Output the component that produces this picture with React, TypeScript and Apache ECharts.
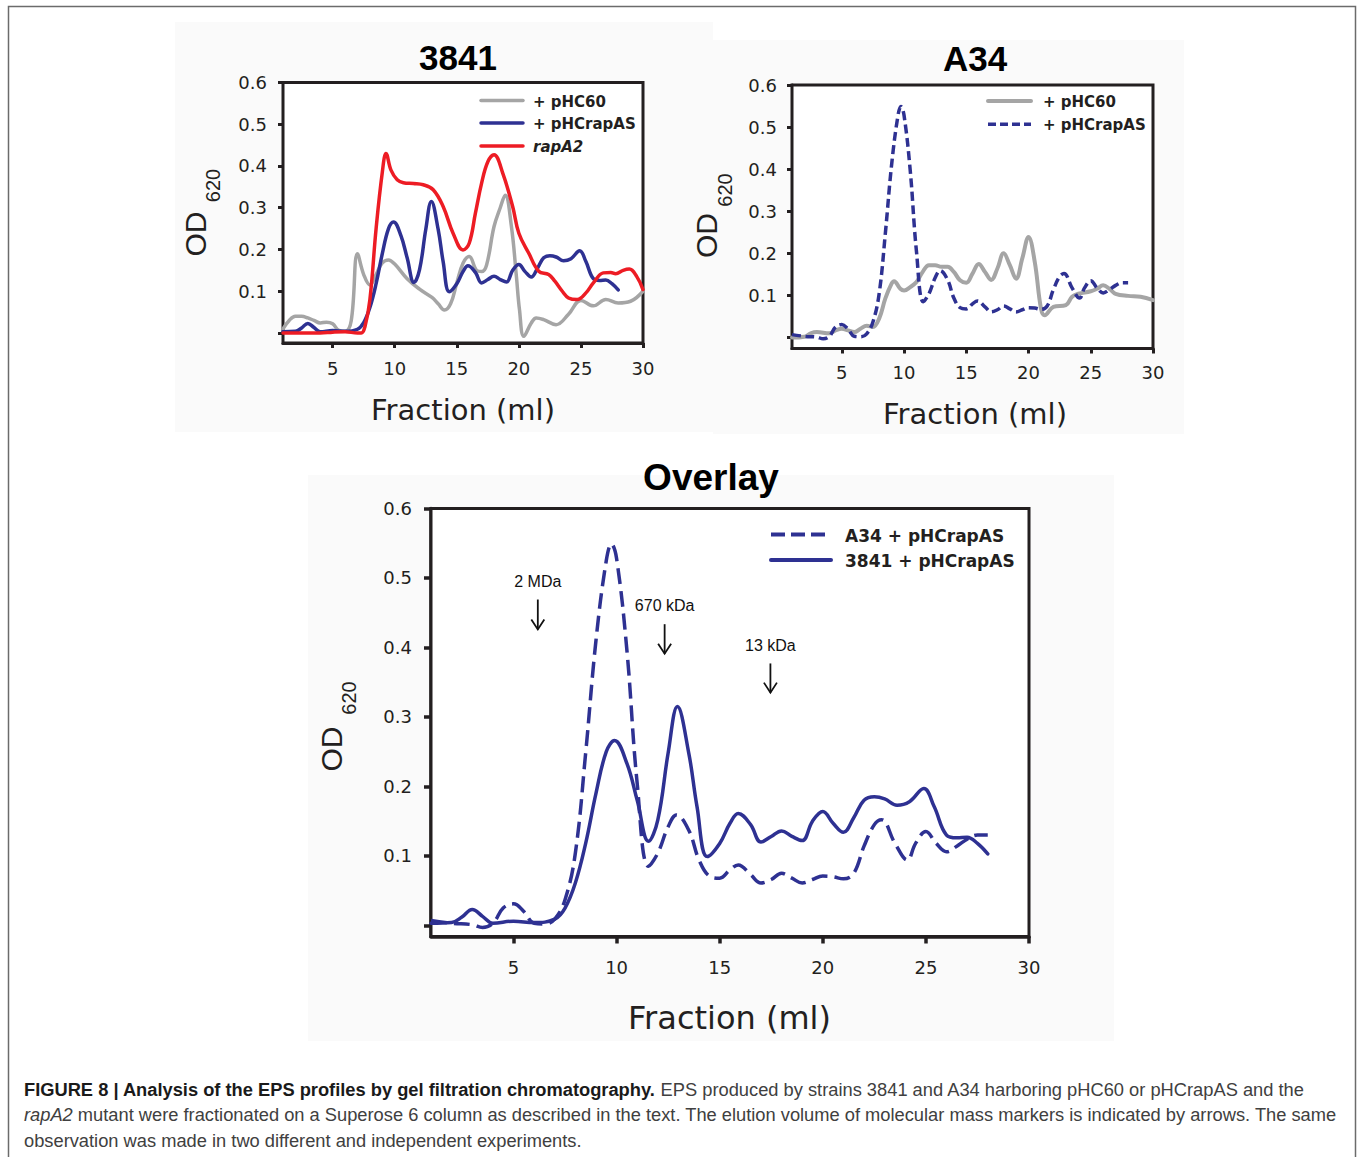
import React, { useEffect, useRef } from "react";
import * as echarts from "echarts";

// ---------- Data ----------
const FRACTION_TICKS = [5, 10, 15, 20, 25, 30];
const OD_TICKS = [0, 0.1, 0.2, 0.3, 0.4, 0.5, 0.6];
const OD_LABELS = [0.1, 0.2, 0.3, 0.4, 0.5, 0.6];

// Strain 3841 + pHC60
const s3841_pHC60_x = [1, 1.5, 2, 2.5, 3, 3.5, 4, 4.5, 5, 5.5, 6, 6.5, 7, 7.5, 8, 8.5, 9, 9.5, 10, 11, 12, 13, 13.5, 14, 14.5, 15, 15.5, 16, 16.6, 17, 17.4, 18, 18.5, 18.9, 19.4, 19.8, 20.05, 20.4, 21, 21.4, 22, 23, 24, 25, 26, 27, 28, 29, 30];
const s3841_pHC60_y = [0.01, 0.03, 0.04, 0.04, 0.036, 0.03, 0.024, 0.026, 0.022, 0.006, 0.004, 0.03, 0.19, 0.14, 0.115, 0.14, 0.168, 0.175, 0.165, 0.13, 0.105, 0.085, 0.07, 0.055, 0.07, 0.12, 0.167, 0.183, 0.15, 0.147, 0.163, 0.255, 0.3, 0.33, 0.255, 0.136, 0.056, -0.008, 0.024, 0.036, 0.032, 0.02, 0.045, 0.078, 0.065, 0.08, 0.072, 0.076, 0.1];

// Strain 3841 + pHCrapAS
const s3841_pHCrapAS_x = [1, 2, 2.5, 3, 3.5, 4, 5, 6, 7, 7.5, 8, 8.5, 9, 9.5, 9.9, 10.5, 11, 11.55, 12, 12.5, 12.95, 13.5, 13.9, 14.4, 15, 15.5, 15.9, 16.5, 17, 17.5, 18, 18.5, 19, 19.5, 20, 20.5, 21, 21.5, 22, 22.5, 23, 23.6, 24.2, 24.9, 25.4, 26, 26.5, 27, 27.5, 28];
const s3841_pHCrapAS_y = [0.003, 0.004, 0.012, 0.023, 0.013, 0.003, 0.006, 0.004, 0.009, 0.025, 0.061, 0.118, 0.19, 0.25, 0.266, 0.233, 0.18, 0.121, 0.152, 0.248, 0.315, 0.248, 0.171, 0.099, 0.118, 0.147, 0.161, 0.145, 0.12, 0.128, 0.136, 0.128, 0.122, 0.15, 0.164, 0.147, 0.134, 0.155, 0.18, 0.185, 0.182, 0.173, 0.178, 0.197, 0.171, 0.13, 0.126, 0.127, 0.118, 0.103];

// rapA2 mutant
const rapA2_x = [1, 2, 3, 4, 5, 6, 7, 7.3, 7.6, 8, 8.5, 9, 9.3, 9.7, 10.2, 10.7, 11.5, 12.3, 13.1, 13.9, 14.7, 15.5, 16, 16.5, 17, 17.5, 18, 18.7, 19.5, 20, 20.8, 21.6, 22.4, 22.9, 23.5, 24, 24.7, 25.4, 26, 26.8, 27.4, 27.8, 28.4, 28.9, 29.5, 30];
const rapA2_y = [0, 0, 0, 0, 0.002, 0.003, 0, 0, 0.015, 0.08, 0.25, 0.385, 0.43, 0.39, 0.367, 0.36, 0.358, 0.355, 0.343, 0.303, 0.239, 0.199, 0.215, 0.287, 0.359, 0.41, 0.427, 0.383, 0.303, 0.239, 0.191, 0.148, 0.14, 0.124, 0.1, 0.084, 0.08, 0.096, 0.12, 0.144, 0.145, 0.142, 0.15, 0.153, 0.135, 0.104];

// Strain A34 + pHC60
const sA34_pHC60_x = [1, 2, 2.5, 3, 4, 4.5, 5, 5.5, 6, 6.5, 7, 7.5, 8, 8.5, 9, 9.2, 9.7, 10, 10.5, 11, 11.5, 12, 12.5, 13, 13.5, 14, 14.5, 15, 15.5, 16, 16.5, 17, 17.5, 18, 18.5, 19, 19.5, 20, 20.5, 21, 21.3, 22, 23, 23.5, 24, 25, 25.5, 26, 26.5, 27, 28, 29, 30];
const sA34_pHC60_y = [0, 0.002, 0.01, 0.013, 0.01, 0.017, 0.021, 0.017, 0.013, 0.021, 0.028, 0.025, 0.045, 0.093, 0.128, 0.134, 0.116, 0.112, 0.12, 0.132, 0.156, 0.172, 0.172, 0.168, 0.168, 0.156, 0.136, 0.13, 0.152, 0.175, 0.156, 0.137, 0.164, 0.2, 0.172, 0.14, 0.188, 0.239, 0.18, 0.069, 0.053, 0.073, 0.077, 0.097, 0.104, 0.11, 0.116, 0.124, 0.116, 0.104, 0.099, 0.097, 0.089];

// Strain A34 + pHCrapAS
const sA34_pHCrapAS_x = [1, 2, 3, 3.5, 4, 4.5, 5, 5.5, 6, 6.5, 7, 7.5, 8, 8.5, 9, 9.5, 9.75, 10, 10.5, 11, 11.55, 12, 12.5, 12.9, 13.5, 14, 14.5, 15, 15.5, 15.9, 16.5, 17, 17.5, 18, 18.5, 19, 19.5, 20, 20.5, 21, 21.5, 22, 22.5, 22.85, 23.5, 24.1, 24.5, 25, 25.5, 26, 26.5, 27, 27.5, 28];
const sA34_pHCrapAS_y = [0.007, 0.003, 0.001, -0.003, 0.003, 0.025, 0.031, 0.02, 0.003, 0.002, 0.009, 0.037, 0.104, 0.248, 0.41, 0.525, 0.549, 0.528, 0.396, 0.204, 0.085, 0.104, 0.142, 0.159, 0.137, 0.094, 0.071, 0.068, 0.08, 0.087, 0.073, 0.061, 0.066, 0.075, 0.068, 0.061, 0.066, 0.071, 0.07, 0.067, 0.075, 0.114, 0.145, 0.152, 0.118, 0.094, 0.118, 0.135, 0.118, 0.106, 0.114, 0.124, 0.13, 0.13];

// Molecular mass markers (overlay)
const markerNames = ["2 MDa", "670 kDa", "13 kDa"];
const markerFractions = [6.18, 12.33, 17.46];
const markerLabelOD = [0.495, 0.461, 0.403];
const markerArrowTopOD = [0.469, 0.4335, 0.377];
const markerArrowTipOD = [0.426, 0.391, 0.335];

// ---------- Styles ----------
const AX = "#231f20";
const GRAY = "#a5a5a5";
const BLUE = "#2e3192";
const RED = "#ed1c24";
const TICK_FONT = "DejaVu Sans";
const TITLE_FONT = "Liberation Sans";

const zip = (xs: number[], ys: number[]) => xs.map((x, i) => [x, ys[i]]);

function grid(left: number, top: number, width: number, height: number) {
  return { left, top, width, height, show: true, borderColor: AX, borderWidth: 3, backgroundColor: "#ffffff", z: 1 };
}

function xAxis(gridIndex: number, margin: number, tickLen: number, w: number) {
  return {
    type: "value", gridIndex, min: 1, max: 30,
    axisLine: { show: true, onZero: false, lineStyle: { color: AX, width: w } },
    axisTick: { show: true, length: tickLen, customValues: FRACTION_TICKS, lineStyle: { color: AX, width: w } },
    axisLabel: { show: true, customValues: FRACTION_TICKS, margin, color: AX, fontFamily: TICK_FONT, fontSize: 18, formatter: (v: number) => String(v) },
    splitLine: { show: false },
  };
}

function yAxis(gridIndex: number, min: number, margin: number, tickLen: number, w: number) {
  return {
    type: "value", gridIndex, min, max: 0.6,
    axisLine: { show: true, onZero: false, lineStyle: { color: AX, width: w } },
    axisTick: { show: true, length: tickLen, customValues: OD_TICKS, lineStyle: { color: AX, width: w } },
    axisLabel: { show: true, customValues: OD_LABELS, margin, color: AX, fontFamily: TICK_FONT, fontSize: 18, formatter: (v: number) => v.toFixed(1) },
    splitLine: { show: false },
  };
}

function line(name: string, idx: number, xs: number[], ys: number[], color: string, width: number, dash?: number[]) {
  return {
    type: "line", name, xAxisIndex: idx, yAxisIndex: idx, data: zip(xs, ys),
    smooth: 0.4, showSymbol: false, symbol: "none", silent: true, z: 3,
    lineStyle: { color, width, type: dash ? dash : "solid", cap: dash ? "butt" : "round", join: "round" },
  };
}

function txt(text: string, x: number, y: number, size: number, opts: any = {}) {
  return {
    type: "text", x, y, rotation: opts.rotation || 0, z: 10,
    style: {
      text, fill: opts.fill || AX, fontSize: size, fontFamily: opts.family || TICK_FONT,
      fontWeight: opts.weight || "normal", fontStyle: opts.italic ? "italic" : "normal",
      align: opts.align || "center", verticalAlign: "middle",
    },
  };
}

function legLine(x1: number, x2: number, y: number, color: string, width: number, dash?: number[]) {
  return {
    type: "line", z: 10,
    shape: { x1, y1: y, x2, y2: y },
    style: { stroke: color, lineWidth: width, lineDash: dash || null, lineCap: dash ? "butt" : "round" },
  };
}

function odName(xOD: number, yOD: number, xSub: number, ySub: number) {
  return [
    txt("OD", xOD, yOD, 30, { rotation: Math.PI / 2, family: TITLE_FONT }),
    txt("620", xSub, ySub, 20, { rotation: Math.PI / 2, family: TITLE_FONT }),
  ];
}

const CAPTION_FONT = "Liberation Sans";
const CAP_SIZE = 18.3;
const capRich = {
  b: { fontFamily: CAPTION_FONT, fontSize: CAP_SIZE, fontWeight: "bold", fill: "#1a1a1a" },
  r: { fontFamily: CAPTION_FONT, fontSize: CAP_SIZE, fontWeight: "normal", fill: "#404040" },
  i: { fontFamily: CAPTION_FONT, fontSize: CAP_SIZE, fontWeight: "normal", fontStyle: "italic", fill: "#404040" },
};
function capLine(text: string, y: number) {
  return { type: "text", x: 24, y, z: 10, style: { text, rich: capRich, align: "left", verticalAlign: "middle" } };
}

const option: any = {
  animation: false,
  backgroundColor: "#ffffff",
  grid: [grid(283, 82.5, 360, 260.5), grid(792, 85, 361, 263.5), grid(431, 508.5, 598, 428)],
  xAxis: [xAxis(0, 16, 5, 3), xAxis(1, 15, 5, 3), xAxis(2, 22, 7, 3.5)],
  yAxis: [yAxis(0, -0.024, 16, 5, 3), yAxis(1, -0.026, 15, 5, 3), yAxis(2, -0.016, 19, 7, 3.5)],
  series: [
    line("+ pHC60", 0, s3841_pHC60_x, s3841_pHC60_y, GRAY, 3.5),
    line("+ pHCrapAS", 0, s3841_pHCrapAS_x, s3841_pHCrapAS_y, BLUE, 3.5),
    line("rapA2", 0, rapA2_x, rapA2_y, RED, 3.5),
    line("+ pHC60 (A34)", 1, sA34_pHC60_x, sA34_pHC60_y, GRAY, 4),
    line("+ pHCrapAS (A34)", 1, sA34_pHCrapAS_x, sA34_pHCrapAS_y, BLUE, 3.5, [9, 4.5]),
    line("A34 + pHCrapAS", 2, sA34_pHCrapAS_x, sA34_pHCrapAS_y, BLUE, 3.5, [16, 7]),
    line("3841 + pHCrapAS", 2, s3841_pHCrapAS_x, s3841_pHCrapAS_y, BLUE, 3.5),
    {
      type: "custom", name: "markers", xAxisIndex: 2, yAxisIndex: 2, silent: true, clip: false, z: 5,
      data: markerNames.map((_, i) => [markerFractions[i], markerLabelOD[i], markerArrowTopOD[i], markerArrowTipOD[i]]),
      encode: { x: 0, y: 1 },
      renderItem: (params: any, api: any) => {
        const f = api.value(0);
        const pL = api.coord([f, api.value(1)]);
        const pT = api.coord([f, api.value(2)]);
        const pB = api.coord([f, api.value(3)]);
        return {
          type: "group",
          children: [
            { type: "text", x: pL[0], y: pL[1], style: { text: markerNames[params.dataIndex], fill: "#111", fontSize: 16, fontFamily: TITLE_FONT, align: "center", verticalAlign: "middle" } },
            { type: "line", shape: { x1: pT[0], y1: pT[1], x2: pB[0], y2: pB[1] }, style: { stroke: "#111", lineWidth: 1.8 } },
            { type: "polyline", shape: { points: [[pB[0] - 6.5, pB[1] - 10], [pB[0], pB[1]], [pB[0] + 6.5, pB[1] - 10]] }, style: { stroke: "#111", fill: null, lineWidth: 1.8 } },
          ],
        };
      },
    },
  ],
  graphic: {
    elements: [
      // figure frame and faint panels
      { type: "rect", z: -5, shape: { x: 8.5, y: 6.5, width: 1347, height: 1170 }, style: { fill: "#ffffff", stroke: "#6b6b6b", lineWidth: 1.5 } },
      { type: "rect", z: -4, shape: { x: 175, y: 22, width: 538, height: 410 }, style: { fill: "#fafafa" } },
      { type: "rect", z: -4, shape: { x: 713, y: 40, width: 471, height: 394 }, style: { fill: "#fafafa" } },
      { type: "rect", z: -4, shape: { x: 308, y: 475, width: 806, height: 566 }, style: { fill: "#fafafa" } },
      // titles
      txt("3841", 458, 57, 35, { family: TITLE_FONT, weight: "bold", fill: "#000" }),
      txt("A34", 975, 58, 35, { family: TITLE_FONT, weight: "bold", fill: "#000" }),
      txt("Overlay", 711, 477, 37, { family: TITLE_FONT, weight: "bold", fill: "#000" }),
      // axis names
      txt("Fraction (ml)", 463, 410, 29),
      txt("Fraction (ml)", 975, 413.5, 29),
      txt("Fraction (ml)", 729.5, 1017.5, 32),
      ...odName(195, 234, 212.5, 185.5),
      ...odName(706.5, 235.5, 724.6, 190),
      ...odName(331.5, 749, 349, 698),
      // legend chart 1
      legLine(481, 523, 100.5, GRAY, 3.5),
      legLine(481, 523, 123, BLUE, 3.5),
      legLine(481, 523, 146, RED, 3.5),
      txt("+ pHC60", 533, 101.5, 15, { align: "left", weight: "bold" }),
      txt("+ pHCrapAS", 533, 124, 15, { align: "left", weight: "bold" }),
      txt("rapA2", 533, 147, 15, { align: "left", weight: "bold", italic: true }),
      // legend chart 2
      legLine(988, 1031, 101, GRAY, 4),
      legLine(988, 1031, 124.3, BLUE, 3.5, [8, 4]),
      txt("+ pHC60", 1043, 102, 15, { align: "left", weight: "bold" }),
      txt("+ pHCrapAS", 1043, 125, 15, { align: "left", weight: "bold" }),
      // legend overlay
      legLine(771, 825, 534.5, BLUE, 4, [14, 6]),
      legLine(771, 831, 560, BLUE, 4),
      txt("A34 + pHCrapAS", 845, 535.5, 17, { align: "left", weight: "bold" }),
      txt("3841 + pHCrapAS", 845, 561, 17, { align: "left", weight: "bold" }),
      // caption
      capLine("{b|FIGURE 8 | Analysis of the EPS profiles by gel filtration chromatography.}{r| EPS produced by strains 3841 and A34 harboring pHC60 or pHCrapAS and the}", 1089),
      capLine("{i|rapA2}{r| mutant were fractionated on a Superose 6 column as described in the text. The elution volume of molecular mass markers is indicated by arrows. The same}", 1114.5),
      capLine("{r|observation was made in two different and independent experiments.}", 1140),
    ],
  },
};

export default function App() {
  const ref = useRef<HTMLDivElement>(null);
  useEffect(() => {
    const chart = echarts.init(ref.current as HTMLDivElement, null, { renderer: "svg" });
    chart.setOption(option);
    return () => chart.dispose();
  }, []);
  return (
    <div
      ref={ref}
      style={{ position: "absolute", left: 0, top: 0, width: 1360, height: 1157, background: "#ffffff" }}
    />
  );
}
